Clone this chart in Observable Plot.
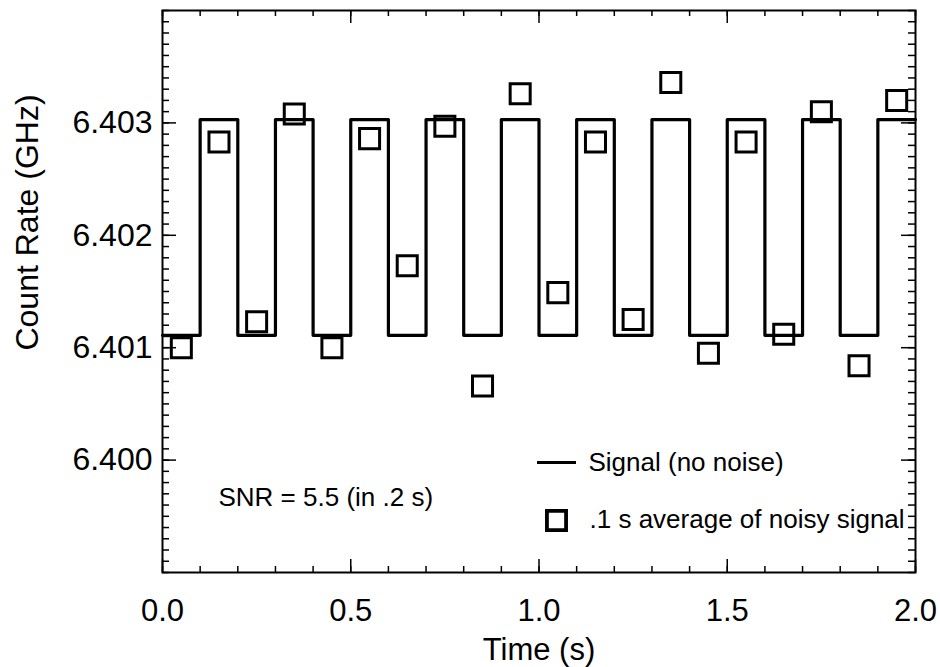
<!DOCTYPE html>
<html>
<head>
<meta charset="utf-8">
<script src="https://cdn.jsdelivr.net/npm/d3@7"></script>
<script src="https://cdn.jsdelivr.net/npm/@observablehq/plot@0.6"></script>
<style>
  html, body { margin: 0; padding: 0; background: #fff; }
  #chart { width: 940px; height: 667px; }
</style>
</head>
<body>
<div id="chart"></div>
<script>
// Signal (no noise): square wave, step-after between these times
const signalTimes = [0.0, 0.1, 0.2, 0.3, 0.4, 0.5, 0.6, 0.7, 0.8, 0.9, 1.0, 1.1, 1.2, 1.3, 1.4, 1.5, 1.6, 1.7, 1.8, 1.9, 2.0];
const signalValues = [6.40111, 6.40303, 6.40111, 6.40303, 6.40111, 6.40303, 6.40111, 6.40303, 6.40111, 6.40303, 6.40111, 6.40303, 6.40111, 6.40303, 6.40111, 6.40303, 6.40111, 6.40303, 6.40111, 6.40303, 6.40303];

// .1 s average of noisy signal
const avgTimes = [0.05, 0.15, 0.25, 0.35, 0.45, 0.55, 0.65, 0.75, 0.85, 0.95, 1.05, 1.15, 1.25, 1.35, 1.45, 1.55, 1.65, 1.75, 1.85, 1.95];
const avgValues = [6.40100, 6.40283, 6.40123, 6.40308, 6.40100, 6.40286, 6.40173, 6.40297, 6.40066, 6.40326, 6.40149, 6.40283, 6.40125, 6.40336, 6.40095, 6.40283, 6.40112, 6.40310, 6.40084, 6.40320];

// Axis ticks and labels
const xMajorTicks = [0.0, 0.5, 1.0, 1.5, 2.0];
const yMajorTicks = [6.400, 6.401, 6.402, 6.403];
const xDomain = [0, 2];
const yDomain = [6.399, 6.404];
const xTitle = "Time (s)";
const yTitle = "Count Rate (GHz)";
const legendLabels = ["Signal (no noise)", ".1 s average of noisy signal"];
const annotation = "SNR = 5.5 (in .2 s)";

const xMinorTicks = d3.ticks(xDomain[0], xDomain[1], 20);
const yMinorTicks = d3.ticks(yDomain[0], yDomain[1], 50);

const signal = signalTimes.map((t, i) => ({t, v: signalValues[i]}));
const avg = avgTimes.map((t, i) => ({t, v: avgValues[i]}));

const FONT = "'Liberation Sans', Arial, Helvetica, sans-serif";
const W = 940, H = 667;
const M = {top: 10, right: 25, bottom: 95, left: 162};
const PW = W - M.left - M.right;   // plot area width
const PH = H - M.top - M.bottom;   // plot area height

const lineSymbol = {
  draw(ctx, size) {
    const w = Math.sqrt(size);
    ctx.moveTo(-w, 0);
    ctx.lineTo(w, 0);
  }
};

const tk = {stroke: "black", strokeWidth: 1.5};
const MAJ = 13, MIN = 6;

const chart = Plot.plot({
  width: W,
  height: H,
  marginTop: M.top,
  marginRight: M.right,
  marginBottom: M.bottom,
  marginLeft: M.left,
  x: {domain: xDomain},
  y: {domain: yDomain},
  style: {fontFamily: FONT, background: "white", color: "black"},
  marks: [
    // inward ticks on all four sides
    Plot.tickX(xMajorTicks, {x: d => d, insetTop: PH - MAJ, ...tk}),
    Plot.tickX(xMinorTicks, {x: d => d, insetTop: PH - MIN, ...tk}),
    Plot.tickX(xMajorTicks, {x: d => d, insetBottom: PH - MAJ, ...tk}),
    Plot.tickX(xMinorTicks, {x: d => d, insetBottom: PH - MIN, ...tk}),
    Plot.tickY(yMajorTicks, {y: d => d, insetRight: PW - (MAJ + 1), ...tk}),
    Plot.tickY(yMinorTicks, {y: d => d, insetRight: PW - (MIN + 1), ...tk}),
    Plot.tickY(yMajorTicks, {y: d => d, insetLeft: PW - (MAJ + 1), ...tk}),
    Plot.tickY(yMinorTicks, {y: d => d, insetLeft: PW - (MIN + 1), ...tk}),
    // tick labels
    Plot.axisX({anchor: "bottom", ticks: xMajorTicks, tickSize: 0, tickPadding: 26, tickFormat: d3.format(".1f"), fontSize: 31, label: null, fill: "black"}),
    Plot.axisY({anchor: "left", ticks: yMajorTicks, tickSize: 0, tickPadding: 10, tickFormat: d3.format(".3f"), fontSize: 32, label: null, fill: "black"}),
    // axis titles
    Plot.text([xTitle], {frameAnchor: "bottom", dy: 87, lineAnchor: "bottom", textAnchor: "middle", fontSize: 31, fill: "black"}),
    Plot.text([yTitle], {frameAnchor: "left", dx: -135, dy: -69, rotate: -90, textAnchor: "middle", lineAnchor: "middle", fontSize: 32, fill: "black"}),
    Plot.frame({stroke: "black", strokeWidth: 2}),
    // data
    Plot.line(signal, {x: "t", y: "v", curve: "step-after", stroke: "black", strokeWidth: 3.2}),
    Plot.dot(avg, {x: "t", y: "v", symbol: "square", r: 11.3, stroke: "black", strokeWidth: 3, fill: "none"}),
    // annotation
    Plot.text([annotation], {frameAnchor: "bottom-left", dx: 56, dy: -75, textAnchor: "start", lineAnchor: "middle", fontSize: 26, fill: "black"}),
    // legend
    Plot.dot([0], {frameAnchor: "bottom-right", dx: -359, dy: -110, symbol: lineSymbol, r: 11, stroke: "black", strokeWidth: 3}),
    Plot.text([legendLabels[0]], {frameAnchor: "bottom-right", dx: -327, dy: -110, textAnchor: "start", lineAnchor: "middle", fontSize: 26, fill: "black"}),
    Plot.dot([0], {frameAnchor: "bottom-right", dx: -359, dy: -52, symbol: "square", r: 10.8, stroke: "black", strokeWidth: 3.8, fill: "none"}),
    Plot.text([legendLabels[1]], {frameAnchor: "bottom-right", dx: -326, dy: -53, textAnchor: "start", lineAnchor: "middle", fontSize: 26, fill: "black"})
  ]
});

document.getElementById("chart").appendChild(chart);
</script>
</body>
</html>
